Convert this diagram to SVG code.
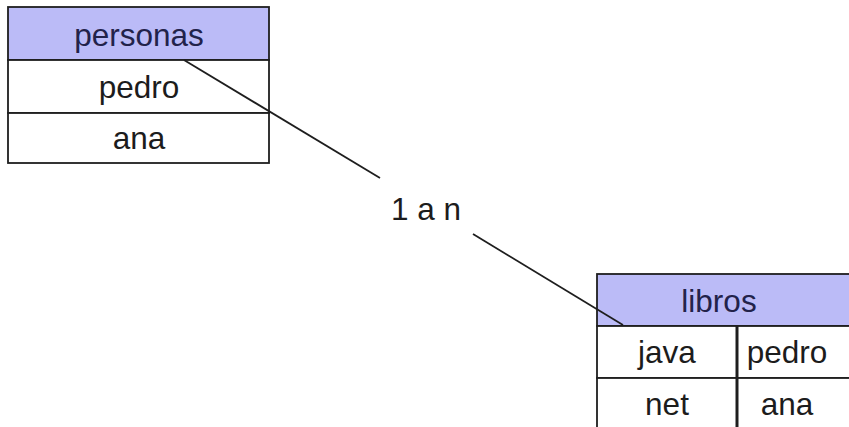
<svg xmlns="http://www.w3.org/2000/svg" width="849" height="427" viewBox="0 0 849 427">
<style>
.cell{fill:#ffffff;stroke:#1e1e1e;stroke-width:1.8}
.head{fill:#bbbbf7;stroke:#1e1e1e;stroke-width:1.8}
.t{font-family:"Liberation Sans",Arial,sans-serif;font-size:31.5px;fill:#1c1c1c;text-anchor:middle}
.th{fill:#22224a}
.conn{stroke:#1e1e1e;stroke-width:1.8;fill:none}
.div{stroke:#1e1e1e;stroke-width:3}
</style>
<rect width="849" height="427" fill="#ffffff"/>
<g id="personas">
<rect class="head" x="8" y="7" width="261" height="53"/>
<rect class="cell" x="8" y="60" width="261" height="53"/>
<rect class="cell" x="8" y="113" width="261" height="50"/>
<text class="t th" x="139" y="46">personas</text>
<text class="t" x="139" y="98">pedro</text>
<text class="t" x="139" y="149">ana</text>
</g>
<g id="libros">
<rect class="head" x="597" y="274" width="270" height="52"/>
<rect class="cell" x="597" y="326" width="270" height="52"/>
<rect class="cell" x="597" y="378" width="270" height="60"/>
<line class="div" x1="737" y1="326" x2="737" y2="438"/>
<text class="t th" x="719" y="312">libros</text>
<text class="t" x="667" y="363">java</text>
<text class="t" x="787" y="363">pedro</text>
<text class="t" x="667" y="415">net</text>
<text class="t" x="787" y="415">ana</text>
</g>
<g id="connectors">
<line class="conn" x1="184" y1="60" x2="380" y2="178"/>
<line class="conn" x1="473" y1="234" x2="623" y2="325"/>
<text class="t" x="426" y="220">1 a n</text>
</g>
</svg>
